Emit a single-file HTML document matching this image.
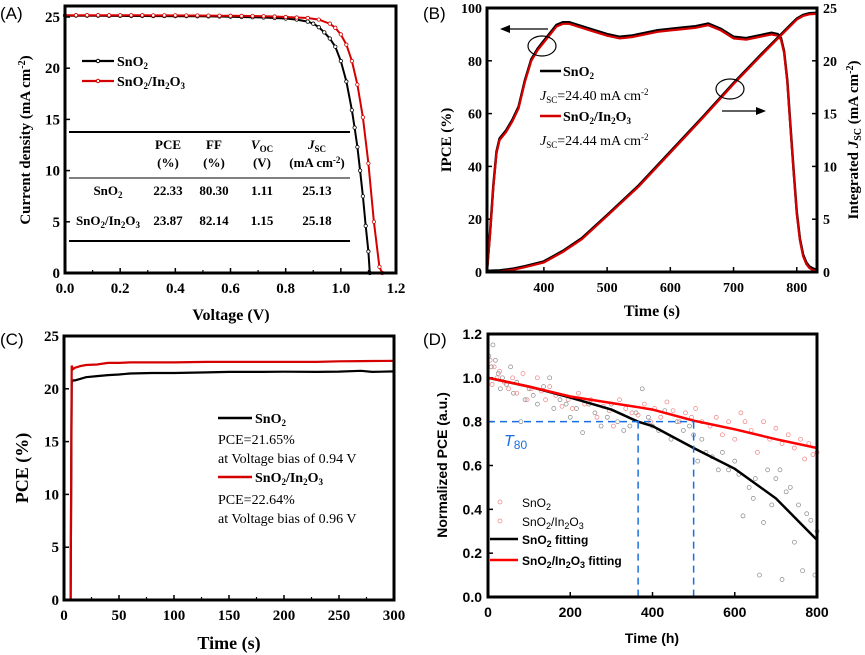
<!DOCTYPE html>
<html><head><meta charset="utf-8"><style>
body{margin:0;background:#fff;width:865px;height:655px;overflow:hidden}
svg{display:block}
.s{font-family:"Liberation Serif",serif;font-weight:bold}
.n{font-family:"Liberation Serif",serif;font-weight:normal}
.a{font-family:"Liberation Sans",sans-serif}
</style></head><body>
<svg id="fig" width="865" height="655" viewBox="0 0 865 655" xmlns="http://www.w3.org/2000/svg"></svg>
<script>
// ---------- Panel A data ----------
const aV1=[0,0.04,0.08,0.12,0.16,0.2,0.24,0.28,0.32,0.36,0.4,0.44,0.48,0.52,0.56,0.6,0.64,0.68,0.72,0.76,0.8,0.84,0.88,0.9,0.92,0.94,0.96,0.98,1.0,1.02,1.04,1.05,1.06,1.07,1.08,1.09,1.1,1.105];
const aJ1=[25.13,25.13,25.12,25.12,25.11,25.11,25.1,25.1,25.09,25.09,25.08,25.08,25.07,25.06,25.05,25.03,25.0,24.98,24.95,24.9,24.85,24.75,24.55,24.35,24.0,23.5,22.9,22.1,20.7,18.7,15.9,14.2,12.3,10.0,7.5,4.6,2.1,0];
const aV2=[0,0.04,0.08,0.12,0.16,0.2,0.24,0.28,0.32,0.36,0.4,0.44,0.48,0.52,0.56,0.6,0.64,0.68,0.72,0.76,0.8,0.84,0.88,0.92,0.96,0.98,1.0,1.02,1.04,1.06,1.08,1.1,1.12,1.14,1.15];
const aJ2=[25.18,25.18,25.18,25.18,25.17,25.17,25.17,25.17,25.16,25.16,25.16,25.15,25.15,25.14,25.13,25.12,25.11,25.1,25.08,25.05,25.0,24.95,24.9,24.75,24.35,23.95,23.3,22.3,20.7,18.4,15.2,10.7,5.0,0.6,0];
const aXTicks=[0,0.2,0.4,0.6,0.8,1.0,1.2];
const aYTicks=[0,5,10,15,20,25];
// ---------- Panel B data ----------
const bT=[310,315,320,325,330,340,350,360,370,380,390,400,410,420,430,440,460,480,500,520,540,560,580,600,620,640,660,680,700,720,740,760,770,775,780,785,790,795,800,805,810,815,820,825,830];
const bIpce=[0,15,32,45,50,53,57,62,72,80,84,87,90,93,94,94,92.5,91,89.5,88.5,89,90,91,91.5,92,92.5,93.5,91.5,88.5,88,89,90,89.5,88,83,72,55,38,22,12,6,3,1.5,0.8,0.3];
const bJt=[310,330,350,370,400,430,460,500,550,600,650,700,750,770,790,800,810,820,830];
const bJsc=[0,0.05,0.2,0.45,0.9,1.9,3.1,5.3,8.1,11.3,14.5,17.8,20.9,22.1,23.3,23.9,24.25,24.4,24.44];
const bXTicks=[400,500,600,700,800];
const bYTicks=[0,20,40,60,80,100];
const bY2Ticks=[0,5,10,15,20,25];
// ---------- Panel C data ----------
const cT1=[5,6,7,8,10,15,20,30,40,50,60,80,100,130,150,180,200,230,250,270,280,300];
const cP1=[0,0,20.6,20.8,20.8,20.95,21.1,21.2,21.3,21.35,21.45,21.5,21.5,21.55,21.6,21.6,21.62,21.6,21.63,21.7,21.6,21.65];
const cT2=[5,6,7,8,10,15,20,30,40,50,60,80,100,130,150,180,200,230,250,270,280,300];
const cP2=[0,0,22.2,21.85,22.0,22.15,22.25,22.3,22.45,22.45,22.5,22.5,22.5,22.55,22.55,22.55,22.55,22.55,22.6,22.62,22.63,22.64];
const cXTicks=[0,50,100,150,200,250,300];
const cYTicks=[0,5,10,15,20,25];
// ---------- Panel D data ----------
const dFitT=[0,100,200,300,365,400,500,600,700,800];
const dFitB=[1.0,0.96,0.91,0.855,0.80,0.78,0.68,0.585,0.45,0.26];
const dFitR=[1.0,0.96,0.915,0.885,0.866,0.855,0.805,0.765,0.72,0.68];
const dSgT=[2,8,12,18,25,30,35,45,55,62,70,80,90,100,110,120,135,150,160,175,190,200,215,230,245,260,275,290,300,315,330,345,360,375,390,400,415,430,445,460,475,490,500,510,520,530,545,560,570,585,600,610,620,635,645,650,660,670,680,690,700,710,715,725,735,745,755,765,775,785,795,800];
const dSgY=[1.10,1.05,1.15,1.08,1.02,0.95,1.00,0.97,1.05,0.93,0.98,0.80,0.90,0.95,0.92,0.88,0.96,1.0,0.86,0.9,0.88,0.82,0.86,0.75,0.88,0.84,0.78,0.82,0.88,0.8,0.76,0.78,0.84,0.95,0.82,0.78,0.76,0.85,0.72,0.8,0.76,0.78,0.74,0.62,0.72,0.66,0.64,0.58,0.66,0.58,0.62,0.56,0.37,0.5,0.45,0.54,0.1,0.34,0.58,0.42,0.54,0.58,0.08,0.48,0.5,0.25,0.42,0.12,0.38,0.35,0.1,0.3];
const dSrT=[5,10,15,22,28,40,50,60,70,85,95,105,120,130,140,150,165,180,195,205,220,235,250,265,280,295,305,320,335,350,365,380,395,405,420,435,450,465,480,495,505,520,540,555,570,585,600,615,625,640,655,670,685,700,715,730,745,760,770,780,790,800];
const dSrY=[1.08,0.97,1.05,1.0,1.03,0.98,0.95,1.0,0.93,1.02,0.9,0.95,1.0,0.94,0.9,0.96,0.92,0.87,0.9,0.86,0.93,0.88,0.9,0.82,0.87,0.85,0.78,0.9,0.86,0.84,0.83,0.88,0.8,0.86,0.82,0.89,0.85,0.8,0.84,0.82,0.86,0.8,0.78,0.82,0.74,0.8,0.72,0.84,0.8,0.76,0.66,0.8,0.72,0.77,0.7,0.74,0.68,0.72,0.63,0.7,0.65,0.66];
const dXTicks=[0,200,400,600,800];
const dYTicks=[0,0.2,0.4,0.6,0.8,1.0,1.2];

const NS="http://www.w3.org/2000/svg";
const svg=document.getElementById('fig');
function mk(tag,attrs,parent){const e=document.createElementNS(NS,tag);for(const k in attrs)e.setAttribute(k,attrs[k]);(parent||svg).appendChild(e);return e;}
function lin(d0,d1,r0,r1){return v=>r0+(v-d0)*(r1-r0)/(d1-d0);}
function txt(x,y,s,cls,size,anchor,parent){const t=mk('text',{x:x,y:y,'font-size':size,'text-anchor':anchor||'middle',class:cls},parent);t.innerHTML=s;return t;}
function pathD(xs,ys,X,Y){return xs.map((v,i)=>(i?'L':'M')+X(v).toFixed(1)+','+Y(ys[i]).toFixed(1)).join('');}
function frame(g,x0,y0,x1,y1){mk('rect',{x:x0,y:y0,width:x1-x0,height:y1-y0,fill:'none',stroke:'#000','stroke-width':3},g);}
const SUB2='SnO<tspan dy="3" font-size="9">2</tspan>';
const SUBIN='SnO<tspan dy="3" font-size="9">2</tspan><tspan dy="-3">/In</tspan><tspan dy="3" font-size="9">2</tspan><tspan dy="-3">O</tspan><tspan dy="3" font-size="9">3</tspan>';

// ===== Panel A =====
{
const g=mk('g',{});


const X=lin(0,1.2,65,396),Y=lin(0,25,273,17);
const l=txt(0,19,'(A)','a',17,'start',g);

aXTicks.forEach(v=>{mk('line',{x1:X(v),x2:X(v),y1:273,y2:268,stroke:'#000','stroke-width':1.5},g);txt(X(v),293,v.toFixed(1),'s',15,'middle',g);});
aXTicks.slice(0,-1).forEach(v=>{mk('line',{x1:X(v+0.1),x2:X(v+0.1),y1:273,y2:270,stroke:'#000','stroke-width':1.2},g);});
aYTicks.forEach(v=>{mk('line',{x1:65,x2:70,y1:Y(v),y2:Y(v),stroke:'#000','stroke-width':1.5},g);txt(60,Y(v)+5,v,'s',15,'end',g);});
const xt=txt(231,320,'Voltage (V)','s',16,'middle',g);

const yt=txt(0,0,'Current density (mA cm<tspan dy="-5" font-size="10">-2</tspan><tspan dy="5">)</tspan>','s',15,'middle',g);
yt.setAttribute('transform','translate(30,140) rotate(-90)');

const p1=mk('path',{d:pathD(aV1,aJ1,X,Y),fill:'none',stroke:'#000','stroke-width':2},g);

aV1.forEach((v,i)=>mk('circle',{cx:X(v),cy:Y(aJ1[i]),r:1.7,fill:'#fff',stroke:'#000','stroke-width':0.8},g));
const p2=mk('path',{d:pathD(aV2,aJ2,X,Y),fill:'none',stroke:'#d40000','stroke-width':2},g);

aV2.forEach((v,i)=>mk('circle',{cx:X(v),cy:Y(aJ2[i]),r:1.7,fill:'#fff',stroke:'#d40000','stroke-width':0.8},g));
mk('line',{x1:82,x2:114,y1:61,y2:61,stroke:'#000','stroke-width':2.2},g);mk('circle',{cx:98,cy:61,r:1.7,fill:'#fff',stroke:'#000'},g);
txt(117,66,SUB2,'s',14,'start',g);
mk('line',{x1:82,x2:114,y1:81,y2:81,stroke:'#d40000','stroke-width':2.2},g);mk('circle',{cx:98,cy:81,r:1.7,fill:'#fff',stroke:'#d40000'},g);
txt(117,86,SUBIN,'s',14,'start',g);
const tb=mk('g',{},g);

mk('line',{x1:69,x2:350,y1:132,y2:132,stroke:'#000','stroke-width':2},tb);
mk('line',{x1:69,x2:350,y1:178,y2:178,stroke:'#000','stroke-width':1},tb);
mk('line',{x1:69,x2:350,y1:241,y2:241,stroke:'#000','stroke-width':2},tb);
const cx=[108,168,214,262,317];
txt(cx[1],149,'PCE','s',13,'middle',tb);txt(cx[1],167,'(%)','s',13,'middle',tb);
txt(cx[2],149,'FF','s',13,'middle',tb);txt(cx[2],167,'(%)','s',13,'middle',tb);
txt(cx[3],149,'<tspan font-style="italic">V</tspan><tspan dy="3" font-size="9">OC</tspan>','s',13,'middle',tb);txt(cx[3],167,'(V)','s',13,'middle',tb);
txt(cx[4],149,'<tspan font-style="italic">J</tspan><tspan dy="3" font-size="9">SC</tspan>','s',13,'middle',tb);txt(cx[4],167,'(mA cm<tspan dy="-4" font-size="9">-2</tspan><tspan dy="4">)</tspan>','s',13,'middle',tb);
const r1=['22.33','80.30','1.11','25.13'],r2=['23.87','82.14','1.15','25.18'];
txt(cx[0],195,SUB2,'s',13,'middle',tb);
txt(cx[0],225,SUBIN,'s',13,'middle',tb);
r1.forEach((s,i)=>txt(cx[i+1],195,s,'s',13,'middle',tb));
r2.forEach((s,i)=>txt(cx[i+1],225,s,'s',13,'middle',tb));
frame(g,65,6,396,273);
}
// ===== Panel B =====
{
const g=mk('g',{});


const X=lin(310,832,487,817),Y=lin(0,100,272,8),Y2=lin(0,25,272,8);
const l=txt(423,19,'(B)','a',17,'start',g);

bXTicks.forEach(v=>{mk('line',{x1:X(v),x2:X(v),y1:272,y2:267,stroke:'#000','stroke-width':1.5},g);txt(X(v),292,v,'s',14,'middle',g);});
bYTicks.forEach(v=>{mk('line',{x1:487,x2:492,y1:Y(v),y2:Y(v),stroke:'#000','stroke-width':1.5},g);txt(482,Y(v)+5,v,'s',14,'end',g);});
bY2Ticks.forEach(v=>{mk('line',{x1:817,x2:812,y1:Y2(v),y2:Y2(v),stroke:'#000','stroke-width':1.5},g);txt(823,Y2(v)+5,v,'s',14,'start',g);});
const xt=txt(652,316,'Time (s)','s',16,'middle',g);

const yt=txt(0,0,'IPCE (%)','s',15,'middle',g);yt.setAttribute('transform','translate(451,140) rotate(-90)');

const y2=txt(0,0,'Integrated <tspan font-style="italic">J</tspan><tspan dy="3" font-size="10">SC</tspan><tspan dy="-3"> (mA cm</tspan><tspan dy="-5" font-size="10">-2</tspan><tspan dy="5">)</tspan>','s',15,'middle',g);
y2.setAttribute('transform','translate(858,140) rotate(-90)');

const pk=mk('path',{d:pathD(bT,bIpce.map(v=>v+0.6),X,Y),fill:'none',stroke:'#000','stroke-width':2.5},g);

const pr=mk('path',{d:pathD(bT,bIpce,X,Y),fill:'none',stroke:'#d40000','stroke-width':2.2},g);

const jk=mk('path',{d:pathD(bJt,bJsc.map(v=>v+0.1),X,Y2),fill:'none',stroke:'#000','stroke-width':2.5},g);

const jr=mk('path',{d:pathD(bJt,bJsc,X,Y2),fill:'none',stroke:'#d40000','stroke-width':2.2},g);

mk('ellipse',{cx:542,cy:46,rx:14,ry:10,fill:'none',stroke:'#000','stroke-width':1.2},g);
mk('ellipse',{cx:730,cy:89,rx:14,ry:10,fill:'none',stroke:'#000','stroke-width':1.2},g);
mk('line',{x1:548,x2:505,y1:29,y2:29,stroke:'#000','stroke-width':1.3},g);mk('path',{d:'M500,29 L510,25 L510,33Z',fill:'#000'},g);
mk('line',{x1:722,x2:760,y1:111,y2:111,stroke:'#000','stroke-width':1.3},g);mk('path',{d:'M766,111 L756,107 L756,115Z',fill:'#000'},g);
mk('line',{x1:540,x2:561,y1:71,y2:71,stroke:'#000','stroke-width':2.5},g);
txt(563,76,SUB2,'s',14,'start',g);
txt(540,100,'<tspan font-style="italic">J</tspan><tspan dy="3" font-size="9">SC</tspan><tspan dy="-3">=24.40 mA cm</tspan><tspan dy="-5" font-size="9">-2</tspan>','n',14,'start',g);
mk('line',{x1:540,x2:561,y1:116,y2:116,stroke:'#d40000','stroke-width':2.5},g);
txt(563,121,SUBIN,'s',14,'start',g);
txt(540,145,'<tspan font-style="italic">J</tspan><tspan dy="3" font-size="9">SC</tspan><tspan dy="-3">=24.44 mA cm</tspan><tspan dy="-5" font-size="9">-2</tspan>','n',14,'start',g);
frame(g,487,8,817,272);
}
// ===== Panel C =====
{
const g=mk('g',{});


const X=lin(0,300,64,394),Y=lin(0,25,600,336);
const l=txt(0,345,'(C)','a',17,'start',g);

cXTicks.forEach(v=>{mk('line',{x1:X(v),x2:X(v),y1:600,y2:595,stroke:'#000','stroke-width':1.5},g);txt(X(v),620,v,'s',15,'middle',g);});
cXTicks.slice(0,-1).forEach(v=>mk('line',{x1:X(v+25),x2:X(v+25),y1:600,y2:597,stroke:'#000','stroke-width':1.2},g));
cYTicks.forEach(v=>{mk('line',{x1:64,x2:69,y1:Y(v),y2:Y(v),stroke:'#000','stroke-width':1.5},g);txt(59,Y(v)+5,v,'s',15,'end',g);});
const xt=txt(229,649,'Time (s)','s',18,'middle',g);

const yt=txt(0,0,'PCE (%)','s',18,'middle',g);yt.setAttribute('transform','translate(28,468) rotate(-90)');

const pk=mk('path',{d:pathD(cT1,cP1,X,Y),fill:'none',stroke:'#000','stroke-width':2.2},g);

const pr=mk('path',{d:pathD(cT2,cP2,X,Y),fill:'none',stroke:'#d40000','stroke-width':2.2},g);

mk('line',{x1:218,x2:252,y1:418,y2:418,stroke:'#000','stroke-width':2.5},g);
txt(255,423,SUB2,'s',14,'start',g);
txt(218,444,'PCE=21.65%','n',14,'start',g);
txt(218,463,'at Voltage bias of 0.94 V','n',14,'start',g);
mk('line',{x1:218,x2:252,y1:477,y2:477,stroke:'#d40000','stroke-width':2.5},g);
txt(255,482,SUBIN,'s',14,'start',g);
txt(218,504,'PCE=22.64%','n',14,'start',g);
txt(218,523,'at Voltage bias of 0.96 V','n',14,'start',g);
frame(g,64,336,394,600);
}
// ===== Panel D =====
{
const g=mk('g',{});


const X=lin(0,800,488,817),Y=lin(0,1.2,597,334);
const l=txt(423,345,'(D)','a',17,'start',g);

dXTicks.forEach(v=>{mk('line',{x1:X(v),x2:X(v),y1:597,y2:592,stroke:'#000','stroke-width':1.5},g);txt(X(v),617,v,'a',14,'middle',g).setAttribute('font-weight','bold');});
dYTicks.forEach(v=>{mk('line',{x1:488,x2:493,y1:Y(v),y2:Y(v),stroke:'#000','stroke-width':1.5},g);txt(482,Y(v)+5,v.toFixed(1),'a',14,'end',g).setAttribute('font-weight','bold');});
const xt=txt(652,643,'Time (h)','a',14,'middle',g);xt.setAttribute('font-weight','bold');

const yt=txt(0,0,'Normalized PCE (a.u.)','a',14,'middle',g);yt.setAttribute('font-weight','bold');yt.setAttribute('transform','translate(447,465) rotate(-90)');

dSgT.forEach((t,i)=>{const c=mk('circle',{cx:X(t),cy:Y(dSgY[i]),r:2,fill:'none',stroke:'#888','stroke-width':0.7},g);
});
dSrT.forEach((t,i)=>{const c=mk('circle',{cx:X(t),cy:Y(dSrY[i]),r:2,fill:'none',stroke:'#f08080','stroke-width':0.7},g);
});
const fk=mk('path',{d:pathD(dFitT,dFitB,X,Y),fill:'none',stroke:'#000','stroke-width':2.5},g);

const fr=mk('path',{d:pathD(dFitT,dFitR,X,Y),fill:'none',stroke:'#f00','stroke-width':2.5},g);

const da={fill:'none',stroke:'#1a6fe0','stroke-width':1.5,'stroke-dasharray':'7,5'};
mk('path',Object.assign({d:`M${X(0)},${Y(0.8)}H${X(500)}M${X(365)},${Y(0.8)}V597M${X(500)},${Y(0.8)}V597`},da),g);
txt(504,446,'<tspan font-style="italic">T</tspan><tspan dy="3" font-size="12">80</tspan>','a',16,'start',g).setAttribute('fill','#1a6fe0');
mk('circle',{cx:500,cy:502,r:2,fill:'none',stroke:'#f08080','stroke-width':0.7},g);
txt(522,507,SUB2,'a',12,'start',g);
mk('circle',{cx:500,cy:521,r:2,fill:'none',stroke:'#f08080','stroke-width':0.7},g);
txt(522,526,SUBIN,'a',12,'start',g);
mk('line',{x1:490,x2:518,y1:539,y2:539,stroke:'#000','stroke-width':2.5},g);
txt(522,544,'SnO<tspan dy="3" font-size="9">2</tspan><tspan dy="-3"> fitting</tspan>','a',12,'start',g).setAttribute('font-weight','bold');
mk('line',{x1:490,x2:518,y1:560,y2:560,stroke:'#f00','stroke-width':2.5},g);
txt(522,565,SUBIN+'<tspan dy="-3"> fitting</tspan>','a',12,'start',g).setAttribute('font-weight','bold');
frame(g,488,334,817,597);
}
</script>
</body></html>
